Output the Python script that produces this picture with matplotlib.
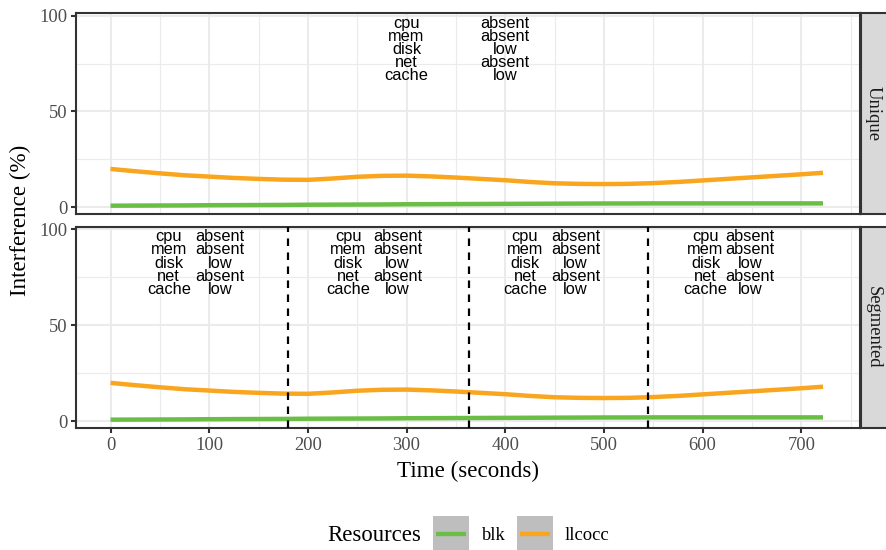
import matplotlib
matplotlib.use("Agg")
import matplotlib.pyplot as plt
from matplotlib.patches import Rectangle
from matplotlib.lines import Line2D

# ---- data -------------------------------------------------------------
time_s = [0, 25, 50, 75, 100, 125, 150, 175, 200, 225, 250, 275, 300, 325,
          350, 375, 400, 425, 450, 475, 500, 525, 550, 575, 600, 625, 650,
          675, 700, 722]
llcocc = [19.9, 18.7, 17.6, 16.6, 15.9, 15.2, 14.7, 14.3, 14.2, 14.9, 15.8,
          16.3, 16.4, 16.0, 15.4, 14.7, 14.0, 13.1, 12.4, 12.1, 12.0, 12.1,
          12.5, 13.1, 13.9, 14.7, 15.5, 16.3, 17.1, 17.9]
blk = [0.7, 0.75, 0.8, 0.85, 0.95, 1.0, 1.05, 1.1, 1.2, 1.25, 1.3, 1.35,
       1.45, 1.5, 1.55, 1.6, 1.65, 1.7, 1.75, 1.8, 1.85, 1.85, 1.9, 1.9,
       1.9, 1.9, 1.9, 1.9, 1.9, 1.9]

facets = ["Unique", "Segmented"]
segment_bounds = [180, 363, 545]

resource_names = ["cpu", "mem", "disk", "net", "cache"]
resource_levels = ["absent", "absent", "low", "absent", "low"]
unique_label_x = [300]
unique_level_x = [400]
segmented_label_x = [59, 241, 420, 603]
segmented_level_x = [111, 291, 471, 648]

series_names = ["blk", "llcocc"]
series_colors = {"blk": "#6ABD45", "llcocc": "#F9A51E"}

x_ticks = [0, 100, 200, 300, 400, 500, 600, 700]
y_ticks = [0, 50, 100]

# ---- styling ------------------------------------------------------------
W, H = 886, 550
SERIF = "Liberation Serif"
SANS = "Liberation Sans"
GRID = "#EBEBEB"
DARK = "#333333"
TICKTXT = "#4D4D4D"

fig = plt.figure(figsize=(W / 100, H / 100), dpi=100)


def rect(x0, y0, x1, y1):
    """Pixel box (top-left origin) to figure fraction rect."""
    return [x0 / W, 1 - y1 / H, (x1 - x0) / W, (y1 - y0) / H]


panel_boxes = [(76, 13.3, 860, 214.3), (76, 227, 860, 428.3)]
text_rows_y = [93.7, 86.9, 80.05, 73.2, 66.4]

for i, (facet, box) in enumerate(zip(facets, panel_boxes)):
    ax = fig.add_axes(rect(*box))
    ax.set_xlim(-35, 759.5)
    ax.set_ylim(-3.8, 101.25)

    # grid
    for v in [-50, 50, 150, 250, 350, 450, 550, 650, 750]:
        ax.axvline(v, color=GRID, lw=0.8, zorder=0)
    for v in [25, 75]:
        ax.axhline(v, color=GRID, lw=0.8, zorder=0)
    for v in x_ticks:
        ax.axvline(v, color=GRID, lw=1.5, zorder=0)
    for v in y_ticks:
        ax.axhline(v, color=GRID, lw=1.5, zorder=0)

    for name, vals in zip(series_names, [blk, llcocc]):
        ax.plot(time_s, vals, color=series_colors[name], lw=3.2,
                solid_capstyle="butt", zorder=3)

    if facet == "Unique":
        lx, vx = unique_label_x, unique_level_x
    else:
        lx, vx = segmented_label_x, segmented_level_x
        for b in segment_bounds:
            ax.axvline(b, color="black", lw=1.6,
                       linestyle=(0, (3.4, 2.9)), zorder=4)
    for a, b in zip(lx, vx):
        for yy, nm, lv in zip(text_rows_y, resource_names, resource_levels):
            ax.text(a, yy, nm, ha="center", va="baseline", fontsize=11.8,
                    family=SANS, color="black", zorder=5)
            ax.text(b, yy, lv, ha="center", va="baseline", fontsize=11.8,
                    family=SANS, color="black", zorder=5)

    for sp in ax.spines.values():
        sp.set_color(DARK)
        sp.set_linewidth(1.5)
    ax.set_yticks(y_ticks)
    ax.set_xticks(x_ticks)
    ax.tick_params(axis="both", colors=DARK, width=1.5, length=3.3,
                   labelcolor=TICKTXT, labelsize=13.3, pad=3)
    for lab in ax.get_yticklabels():
        lab.set_family(SERIF)
    if i == 0:
        ax.tick_params(axis="x", bottom=False, labelbottom=False)
    else:
        ax.set_xticklabels([str(t) for t in x_ticks], family=SERIF)

    # facet strip
    sax = fig.add_axes(rect(861, box[1], 891, box[3]))
    sax.set_facecolor("#D9D9D9")
    sax.set_xticks([])
    sax.set_yticks([])
    for sp in sax.spines.values():
        sp.set_color(DARK)
        sp.set_linewidth(1.5)
    fig.text(873 / W, 1 - (box[1] + box[3]) / 2 / H, facet, rotation=270,
             ha="center", va="center", fontsize=13.4, family=SERIF,
             color="#1A1A1A")

# axis titles
fig.text(468 / W, 1 - 477 / H, "Time (seconds)", ha="center", va="baseline",
         fontsize=16.6, family=SERIF, color="black")
fig.text(20 / W, 1 - 220 / H, "Interference (%)", ha="center", va="center",
         rotation=90, fontsize=16.6, family=SERIF, color="black")

# legend
fig.text(327 / W, 1 - 541 / H, "Resources", ha="left", va="baseline",
         fontsize=16.4, family=SERIF, color="black")
key_lefts = [433, 517]
label_lefts = [482, 565]
for name, kx, lx in zip(series_names, key_lefts, label_lefts):
    fig.patches.append(Rectangle((kx / W, 1 - 551 / H), 36 / W, 35 / H,
                                 transform=fig.transFigure,
                                 facecolor="#BEBEBE", edgecolor="none"))
    fig.lines.append(Line2D([(kx + 3) / W, (kx + 33) / W],
                            [1 - 534 / H, 1 - 534 / H],
                            transform=fig.transFigure,
                            color=series_colors[name], lw=3.1,
                            solid_capstyle="butt"))
    fig.text(lx / W, 1 - 534 / H, name, ha="left", va="center_baseline",
             fontsize=13.3, family=SERIF, color="black")

fig.savefig("out.png", dpi=100)
